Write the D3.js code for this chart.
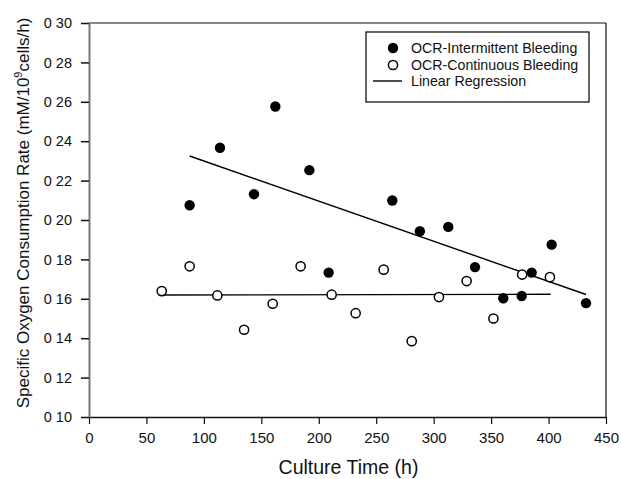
<!DOCTYPE html>
<html>
<head>
<meta charset="utf-8">
<script src="https://cdn.jsdelivr.net/npm/d3@7"></script>
<style>
  body { margin: 0; background: #fff; }
  svg { display: block; font-family: "Liberation Sans", Arial, sans-serif; }
</style>
</head>
<body>
<div id="chart"></div>
<script>
// OCR, intermittent bleeding (filled)
const intermittentTime = [87.6, 114, 143.6, 162.2, 191.8, 208.6, 264, 288, 312.7, 336, 360.6, 376.6, 385.3, 402.7, 432.6];
const intermittentOcr  = [0.2075, 0.2367, 0.2131, 0.2576, 0.2253, 0.1733, 0.2099, 0.1943, 0.1965, 0.1761, 0.1603, 0.1614, 0.1733, 0.1875, 0.1578];

// OCR, continuous bleeding (open)
const continuousTime = [63.3, 87.6, 111.7, 135, 159.9, 184.2, 211.2, 232.1, 256.5, 280.9, 304.6, 328.7, 352, 377, 401.2];
const continuousOcr  = [0.1639, 0.1765, 0.1617, 0.1443, 0.1575, 0.1765, 0.1621, 0.1527, 0.1748, 0.1385, 0.1609, 0.169, 0.150, 0.1723, 0.171];

// regression line end points
const regIntermittent = [[87.6, 0.2325], [432.6, 0.1622]];
const regContinuous   = [[64.4, 0.1619], [401.8, 0.1623]];

const xTicks = [0, 50, 100, 150, 200, 250, 300, 350, 400, 450];
const yTicks = [0.10, 0.12, 0.14, 0.16, 0.18, 0.20, 0.22, 0.24, 0.26, 0.28, 0.30];

const legendLabels = ["OCR-Intermittent Bleeding", "OCR-Continuous Bleeding", "Linear Regression"];

const width = 621, height = 479;
const plotL = 89, plotR = 606, plotT = 23, plotB = 417;

const svg = d3.select("#chart").append("svg")
    .attr("width", width)
    .attr("height", height);

const x = d3.scaleLinear().domain([0, 450]).range([plotL, plotR]);
const y = d3.scaleLinear().domain([0.10, 0.30]).range([plotB, plotT]);

// frame top / right
svg.append("line").attr("x1", plotL).attr("x2", plotR).attr("y1", plotT).attr("y2", plotT)
    .attr("stroke", "#111").attr("stroke-width", 1.2);
svg.append("line").attr("x1", plotR).attr("x2", plotR).attr("y1", plotT).attr("y2", plotB)
    .attr("stroke", "#111").attr("stroke-width", 1.2);

// axes
const xAxis = svg.append("g")
    .attr("transform", `translate(0,${plotB})`)
    .call(d3.axisBottom(x).tickValues(xTicks).tickSize(7).tickSizeOuter(0).tickFormat(d3.format("d")));
xAxis.select(".domain").attr("stroke", "#111").attr("stroke-width", 1.3);
xAxis.selectAll(".tick line").attr("stroke", "#111").attr("stroke-width", 1.2);
xAxis.selectAll(".tick text").attr("font-size", 15).attr("fill", "#111").attr("dy", "1.05em");

const yAxis = svg.append("g")
    .attr("transform", `translate(${plotL},0)`)
    .call(d3.axisLeft(y).tickValues(yTicks).tickSize(8).tickSizeOuter(0)
        .tickFormat(d => d3.format(".2f")(d).replace(".", " ")));
yAxis.select(".domain").attr("stroke", "#777").attr("stroke-width", 2);
yAxis.selectAll(".tick line").attr("stroke", "#111").attr("stroke-width", 1.5);
yAxis.selectAll(".tick text").attr("font-size", 14.5).attr("fill", "#111").attr("x", -17);

// regression lines
const line = d3.line().x(d => x(d[0])).y(d => y(d[1]));
[regIntermittent, regContinuous].forEach(r => {
  svg.append("path").attr("d", line(r)).attr("fill", "none")
      .attr("stroke", "#000").attr("stroke-width", 1.4);
});

// points
svg.append("g").selectAll("circle")
    .data(d3.zip(intermittentTime, intermittentOcr))
    .join("circle")
    .attr("cx", d => x(d[0])).attr("cy", d => y(d[1])).attr("r", 5.2)
    .attr("fill", "#000");

svg.append("g").selectAll("circle")
    .data(d3.zip(continuousTime, continuousOcr))
    .join("circle")
    .attr("cx", d => x(d[0])).attr("cy", d => y(d[1])).attr("r", 4.6)
    .attr("fill", "#fff").attr("stroke", "#000").attr("stroke-width", 1.5);

// axis titles
svg.append("text")
    .attr("x", (plotL + plotR) / 2 + 1).attr("y", 474)
    .attr("text-anchor", "middle").attr("font-size", 19.5).attr("fill", "#111")
    .text("Culture Time (h)");

const yt = svg.append("text")
    .attr("transform", `translate(29,${(plotT + plotB) / 2 - 7}) rotate(-90)`)
    .attr("text-anchor", "middle").attr("font-size", 17).attr("fill", "#111");
yt.append("tspan").text("Specific Oxygen Consumption Rate (mM/10");
yt.append("tspan").attr("font-size", 11).attr("dy", -7).text("9");
yt.append("tspan").attr("dy", 7).text("cells/h)");

// legend
const lg = svg.append("g");
lg.append("rect").attr("x", 366).attr("y", 32).attr("width", 223).attr("height", 70)
    .attr("fill", "#fff").attr("stroke", "#000").attr("stroke-width", 1.2);
const rows = [52, 69, 85];
lg.append("circle").attr("cx", 393).attr("cy", rows[0] - 4).attr("r", 5.2).attr("fill", "#000");
lg.append("circle").attr("cx", 393).attr("cy", rows[1] - 4).attr("r", 4.6)
    .attr("fill", "#fff").attr("stroke", "#000").attr("stroke-width", 1.5);
lg.append("line").attr("x1", 373).attr("x2", 402).attr("y1", rows[2] - 4).attr("y2", rows[2] - 4)
    .attr("stroke", "#000").attr("stroke-width", 1.4);
lg.selectAll("text.lbl").data(legendLabels).join("text")
    .attr("class", "lbl")
    .attr("x", 411).attr("y", (d, i) => rows[i] + 1)
    .attr("font-size", 14.2).attr("fill", "#111")
    .text(d => d);
</script>
</body>
</html>
